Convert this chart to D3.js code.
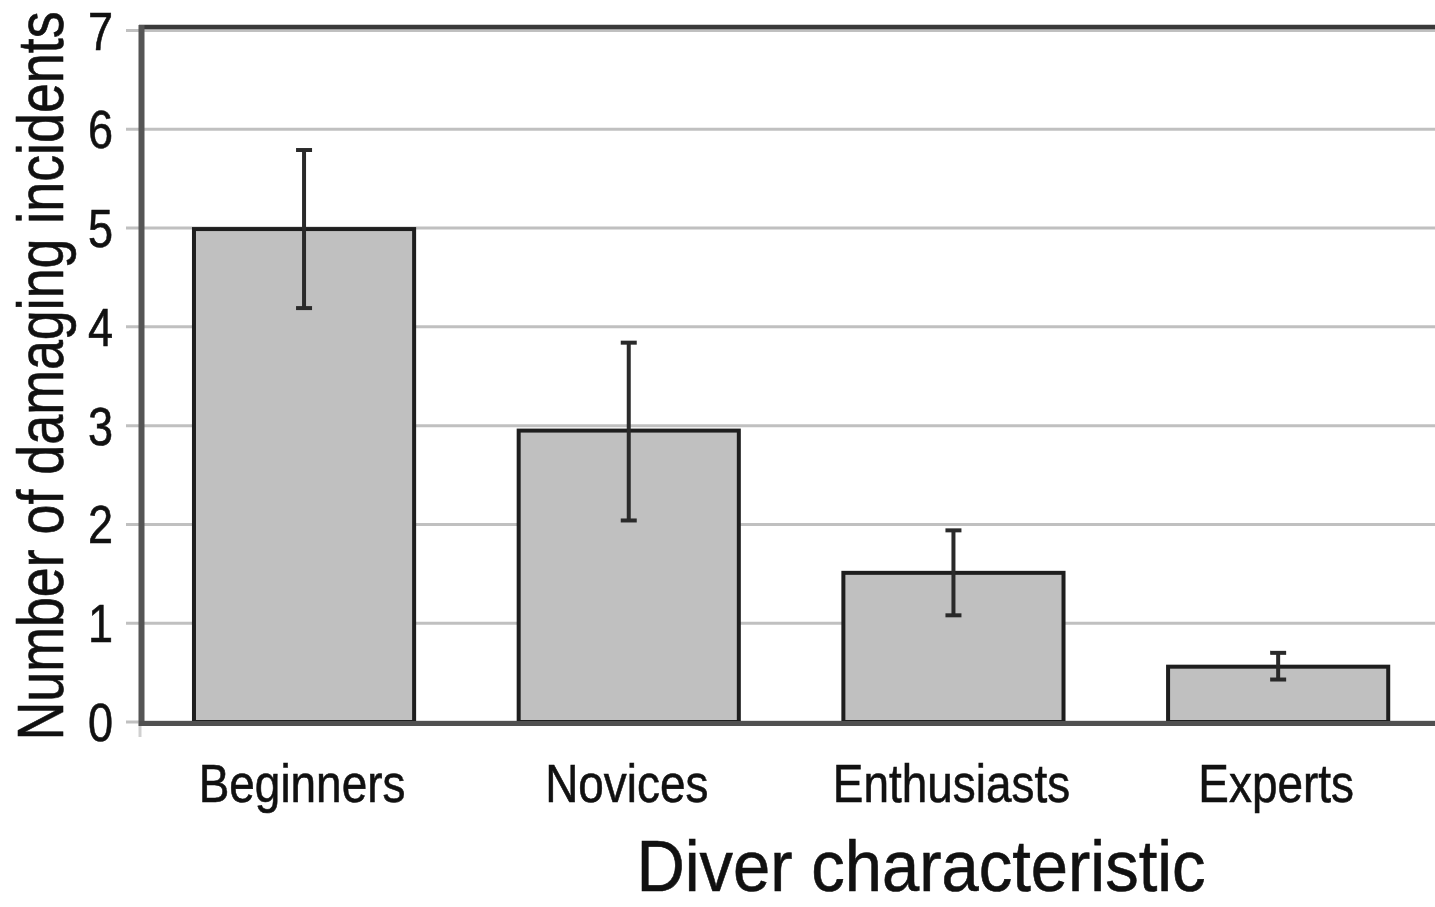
<!DOCTYPE html>
<html>
<head>
<meta charset="utf-8">
<script src="https://cdn.jsdelivr.net/npm/d3@7"></script>
<style>
  html, body { margin: 0; padding: 0; background: #fff; overflow: hidden; }
  svg { display: block; }
  text { font-family: "Liberation Sans", Arial, sans-serif; fill: #111; stroke: #111; stroke-width: 0.6; }
</style>
</head>
<body>
<svg id="chart" width="1435" height="907"></svg>
<script>
const categories = ["Beginners", "Novices", "Enthusiasts", "Experts"];
const means = [4.99, 2.95, 1.51, 0.56];
const errLow = [4.19, 2.04, 1.08, 0.43];
const errHigh = [5.79, 3.84, 1.94, 0.70];
const yTicks = [0, 1, 2, 3, 4, 5, 6, 7];
const yTitle = "Number of damaging incidents";
const xTitle = "Diver characteristic";

const svg = d3.select("#chart");
const SX = 0.85; // horizontal compression of the text seen in the reference

const x = d3.scaleBand().domain(categories).range([141.7, 1440.5])
  .paddingInner(0.322).paddingOuter(0.161);
const y = d3.scaleLinear().domain([0, 7]).range([722, 30.5]);

// gridlines (with tick stubs left of the axis)
svg.append("g").selectAll("line").data(yTicks).join("line")
  .attr("x1", 126).attr("x2", 1440)
  .attr("y1", d => y(d)).attr("y2", d => y(d))
  .attr("stroke", "#c0c0c0").attr("stroke-width", 3);

// top frame line
svg.append("line").attr("x1", 139).attr("x2", 1440)
  .attr("y1", y(7) - 3.5).attr("y2", y(7) - 3.5)
  .attr("stroke", "#3a3a3a").attr("stroke-width", 4.5);

// small tick below origin
svg.append("line").attr("x1", 140).attr("x2", 140)
  .attr("y1", y(0)).attr("y2", y(0) + 15)
  .attr("stroke", "#d0d0d0").attr("stroke-width", 3);

// bars
const idx = d3.range(categories.length);
svg.append("g").selectAll("rect").data(idx).join("rect")
  .attr("x", i => x(categories[i]))
  .attr("y", i => y(means[i]))
  .attr("width", x.bandwidth())
  .attr("height", i => y(0) - y(means[i]))
  .attr("fill", "#c0c0c0")
  .attr("stroke", "#1e1e1e").attr("stroke-width", 4);

// left axis line
svg.append("line").attr("x1", 141.5).attr("x2", 141.5)
  .attr("y1", y(7) - 5.5).attr("y2", y(0) + 4)
  .attr("stroke", "#555").attr("stroke-width", 6);

// bottom axis line
svg.append("line").attr("x1", 139).attr("x2", 1440)
  .attr("y1", y(0) + 1.5).attr("y2", y(0) + 1.5)
  .attr("stroke", "#505050").attr("stroke-width", 5);

// error bars
const eb = svg.append("g").attr("stroke", "#2a2a2a").attr("stroke-width", 4);
idx.forEach(i => {
  const cx = x(categories[i]) + x.bandwidth() / 2;
  eb.append("line").attr("x1", cx).attr("x2", cx)
    .attr("y1", y(errHigh[i])).attr("y2", y(errLow[i]));
  eb.append("line").attr("x1", cx - 8).attr("x2", cx + 8)
    .attr("y1", y(errHigh[i])).attr("y2", y(errHigh[i]));
  eb.append("line").attr("x1", cx - 8).attr("x2", cx + 8)
    .attr("y1", y(errLow[i])).attr("y2", y(errLow[i]));
});

// y tick labels
svg.append("g").selectAll("text").data(yTicks).join("text")
  .attr("transform", d => `translate(113,${y(d) + 19}) scale(${SX},1)`)
  .attr("text-anchor", "end")
  .attr("font-size", 53)
  .text(d => d);

// category labels
svg.append("g").selectAll("text").data(categories).join("text")
  .attr("transform", d => `translate(${x(d) + x.bandwidth() / 2 - 2},802) scale(${SX},1)`)
  .attr("text-anchor", "middle")
  .attr("font-size", 54)
  .text(d => d);

// y title
svg.append("text")
  .attr("transform", `translate(63,376) rotate(-90) scale(0.84,1)`)
  .attr("text-anchor", "middle")
  .attr("font-size", 64)
  .text(yTitle);

// x title
svg.append("text")
  .attr("transform", `translate(921,891) scale(0.93,1)`)
  .attr("text-anchor", "middle")
  .attr("font-size", 72)
  .text(xTitle);
</script>
</body>
</html>
